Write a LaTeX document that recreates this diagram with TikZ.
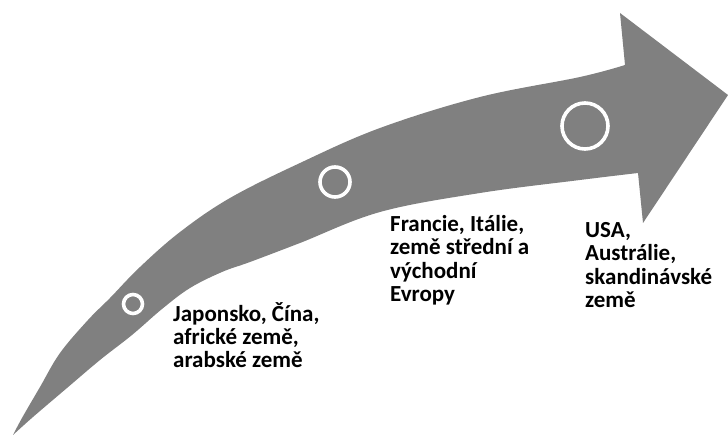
\documentclass[tikz,border=0pt]{standalone}
\usepackage{fontspec}
\setmainfont{Carlito}
\begin{document}
\begin{tikzpicture}[x=1pt,y=-1pt,
  arrowfill/.style={fill=black!50},
  ring/.style={draw=white, line width=3.6pt},
  lbl/.style={anchor=base west, inner sep=0pt, align=left,
    font=\bfseries\fontsize{23}{23.5}\selectfont}]
\useasboundingbox (0,0) rectangle (728,435);
\fill[arrowfill]
  plot[smooth, tension=0.6] coordinates {(13,435) (22,418) (40,387) (60,353) (88,320) (110,298) (140,267) (180,232) (230,198) (300,163) (380,128) (480,97) (580,77) (625,65)}
  -- (620,13) -- (728,95) -- (643,223) -- (638,173)
  -- plot[smooth, tension=0.6] coordinates {(638,173) (580,180) (480,193) (380,212) (300,243) (250,262) (222,272) (190,288) (162,309) (132,335) (100,360) (67,388) (33,417) (13,435)}
  -- cycle;
\node[ring, circle, minimum size=19pt, inner sep=0pt] (c1) at (133,304) {};
\node[ring, circle, minimum size=30pt, inner sep=0pt] (c2) at (335,182) {};
\node[ring, circle, minimum size=46pt, inner sep=0pt] (c3) at (585,126) {};
\node[lbl] (t1) at (173,368) {Japonsko, Čína,\\africké země,\\arabské země};
\node[lbl] (t2) at (390,302) {Francie, Itálie,\\země střední a\\východní\\Evropy};
\node[lbl] (t3) at (585,308) {USA,\\Austrálie,\\skandinávské\\země};
\end{tikzpicture}
\end{document}
